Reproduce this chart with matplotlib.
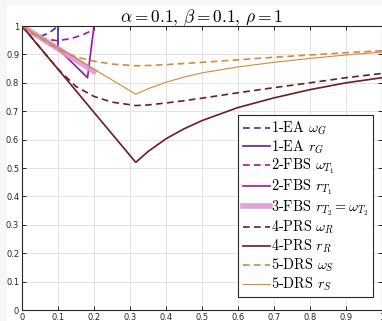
import matplotlib
matplotlib.use("Agg")
import matplotlib.pyplot as plt
from matplotlib.patches import Rectangle

# values
tick_vals = [0, 0.1, 0.2, 0.3, 0.4, 0.5, 0.6, 0.7, 0.8, 0.9, 1]
tick_labels = ["0", "0.1", "0.2", "0.3", "0.4", "0.5", "0.6", "0.7", "0.8", "0.9", "1"]

# 1-EA
ea_w_x = [0, 0.025, 0.05, 0.075, 0.1]
ea_w_y = [1, 0.972, 0.963, 0.975, 1.0]
ea_r_x = [0, 0.1, 0.1]
ea_r_y = [1, 0.92, 1.0]

# 2-FBS
fbs1_w_x = [0, 0.03, 0.06, 0.1, 0.14, 0.17, 0.2]
fbs1_w_y = [1, 0.97, 0.955, 0.948, 0.957, 0.97, 0.988]
fbs1_r_x = [0, 0.1, 0.182, 0.2]
fbs1_r_y = [1, 0.92, 0.818, 1.0]

# 3-FBS
fbs2_x = [0, 0.2]
fbs2_y = [1, 0.84]

# 4-PRS
prs_x = [0, 0.05, 0.1, 0.15, 0.2, 0.25, 0.316, 0.35, 0.4, 0.45, 0.5, 0.6, 0.7, 0.8, 0.9, 1.0]
prs_w = [1, 0.924, 0.848, 0.787, 0.752, 0.732, 0.72, 0.722, 0.729, 0.737, 0.746, 0.765, 0.783, 0.80, 0.818, 0.833]
prs_r = [1, 0.924, 0.848, 0.772, 0.696, 0.62, 0.52, 0.558, 0.603, 0.638, 0.667, 0.713, 0.747, 0.776, 0.80, 0.818]

# 5-DRS
drs_w = [1, 0.958, 0.918, 0.891, 0.876, 0.866, 0.86, 0.861, 0.864, 0.868, 0.872, 0.881, 0.89, 0.898, 0.906, 0.913]
drs_r = [1, 0.962, 0.924, 0.886, 0.848, 0.81, 0.76, 0.779, 0.802, 0.82, 0.835, 0.856, 0.872, 0.886, 0.898, 0.908]

c_ea = "#4f22ae"
c_fbs = "#9e14a6"
c_fbs2 = "#dc98d6"
c_prs = "#6b1d1f"
c_drs = "#d18b3e"

plt.rcParams["mathtext.fontset"] = "cm"

fig = plt.figure(figsize=(3.82, 3.21), dpi=100, facecolor="#f6f6f6")
# white page with a faint grey strip on the top and left like the screenshot
fig.patches.append(Rectangle((7 / 382, 0), 1, 316 / 321, transform=fig.transFigure,
                             facecolor="white", edgecolor="none", zorder=-5))
ax = fig.add_axes([0.0576, 0.034, 0.9424, 0.885])

dash = (4, 2.6)
ax.plot(ea_w_x, ea_w_y, color=c_ea, lw=1.2, dashes=dash, label=r"1-EA $\omega_G$")
ax.plot(ea_r_x, ea_r_y, color=c_ea, lw=1.2, label=r"1-EA $r_G$")
ax.plot(fbs1_w_x, fbs1_w_y, color=c_fbs, lw=1.2, dashes=dash, label=r"2-FBS $\omega_{T_1}$")
ax.plot(fbs1_r_x, fbs1_r_y, color=c_fbs, lw=1.2, label=r"2-FBS $r_{T_1}$")
ax.plot(fbs2_x, fbs2_y, color=c_fbs2, lw=4, alpha=0.9, label=r"3-FBS $r_{T_2} = \omega_{T_2}$")
ax.plot(prs_x, prs_w, color=c_prs, lw=1.2, dashes=dash, label=r"4-PRS $\omega_R$")
ax.plot(prs_x, prs_r, color=c_prs, lw=1.2, label=r"4-PRS $r_R$")
ax.plot(prs_x, drs_w, color=c_drs, lw=1.2, dashes=dash, label=r"5-DRS $\omega_S$")
ax.plot(prs_x, drs_r, color=c_drs, lw=0.8, label=r"5-DRS $r_S$")

ax.set_xlim(0, 1)
ax.set_ylim(0, 1)
ax.set_xticks(tick_vals)
ax.set_xticklabels(tick_labels)
ax.set_yticks(tick_vals)
ax.set_yticklabels(tick_labels)
ax.tick_params(direction="in", top=True, right=True, length=3, width=0.7,
               labelsize=6, colors="#262626", pad=2)
ax.grid(True, color="#e3e3e3", lw=0.7)
ax.set_axisbelow(True)
for s in ax.spines.values():
    s.set_color("#262626")
    s.set_linewidth(0.8)

ax.set_title(r"$\alpha = 0.1,\, \beta = 0.1,\, \rho = 1$", fontsize=12.5, pad=3)

leg = ax.legend(loc="lower right", bbox_to_anchor=(0.975, 0.045),
                prop={"family": "cmr10", "size": 10.3}, fancybox=False, framealpha=1,
                edgecolor="#262626", labelspacing=0.1, handlelength=1.9,
                handletextpad=0.1, borderpad=0.3, borderaxespad=0)
leg.get_frame().set_linewidth(0.8)

fig.savefig("out.png", dpi=100, facecolor=fig.get_facecolor())
